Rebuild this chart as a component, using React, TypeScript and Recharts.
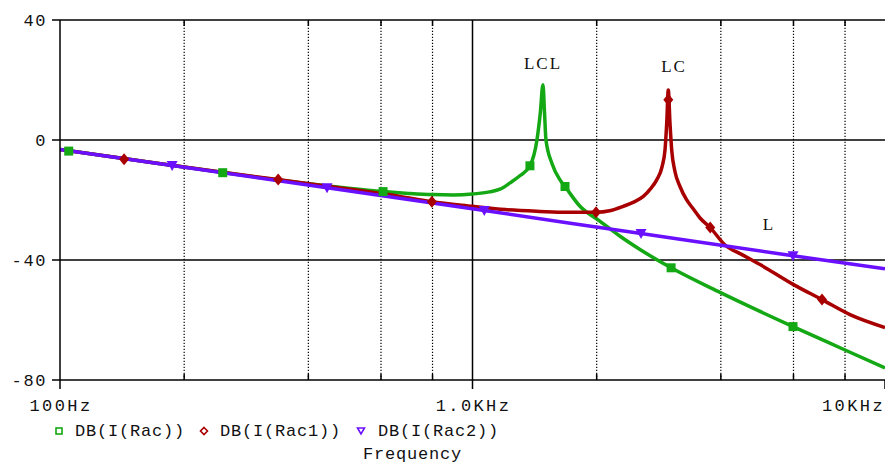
import React from 'react';
import { ComposedChart, Line, Scatter, XAxis, YAxis, ReferenceLine, ReferenceDot } from 'recharts';

const xTicks = [100, 1000, 10000];
const xTickLabels = ['100Hz', '1.0KHz', '10KHz'];
const yTicks = [-80, -40, 0, 40];
const yTickLabels = ['-80', '-40', '0', '40'];
const minorGrid = [200, 400, 600, 800, 2000, 4000, 6000, 8000];
const majorGrid = [1000];
const hGrid = [40, 0, -40];

const seriesNames = ['DB(I(Rac))', 'DB(I(Rac1))', 'DB(I(Rac2))'];
const xAxisTitle = 'Frequency';

// DB(I(Rac)) - LCL
const lclData = [
  { f: 100, db: -3.2 }, { f: 150, db: -6.6 }, { f: 200, db: -9.0 }, { f: 300, db: -12.4 },
  { f: 400, db: -14.6 }, { f: 500, db: -16.1 }, { f: 607, db: -17.2 }, { f: 700, db: -17.8 },
  { f: 800, db: -18.2 }, { f: 900, db: -18.3 }, { f: 1000, db: -18.0 }, { f: 1100, db: -17.3 },
  { f: 1166, db: -16.4 }, { f: 1233, db: -14.3 }, { f: 1300, db: -12.0 }, { f: 1378, db: -8.6 },
  { f: 1433, db: 0 }, { f: 1460, db: 9 }, { f: 1482, db: 18.4 }, { f: 1495, db: 9 },
  { f: 1507, db: 0 }, { f: 1560, db: -8 }, { f: 1630, db: -13.3 }, { f: 1676, db: -15.5 },
  { f: 1822, db: -22.1 }, { f: 2038, db: -27.1 }, { f: 2279, db: -32.1 }, { f: 2547, db: -36.5 },
  { f: 3030, db: -42.6 }, { f: 3981, db: -50.8 }, { f: 5984, db: -62.2 }, { f: 8000, db: -70.0 },
  { f: 10000, db: -76.0 },
];
const lclMarks = [
  { f: 105, db: -3.7 }, { f: 248, db: -10.9 }, { f: 607, db: -17.2 }, { f: 1378, db: -8.6 },
  { f: 1676, db: -15.5 }, { f: 3030, db: -42.6 }, { f: 5984, db: -62.2 },
];

// DB(I(Rac1)) - LC
const lcData = [
  { f: 100, db: -3.2 }, { f: 150, db: -6.6 }, { f: 200, db: -9.0 }, { f: 337, db: -13.2 },
  { f: 500, db: -16.3 }, { f: 667, db: -18.8 }, { f: 797, db: -20.6 }, { f: 1000, db: -22.1 },
  { f: 1200, db: -23.2 }, { f: 1457, db: -23.8 }, { f: 1700, db: -24.1 }, { f: 1993, db: -24.1 },
  { f: 2150, db: -23.6 }, { f: 2321, db: -22.1 }, { f: 2450, db: -20.8 }, { f: 2595, db: -18.8 },
  { f: 2700, db: -16.3 }, { f: 2796, db: -13.3 }, { f: 2880, db: -9 }, { f: 2929, db: -3.3 },
  { f: 2957, db: 5.7 }, { f: 2983, db: 16.7 }, { f: 3011, db: 5.7 }, { f: 3040, db: -3.3 },
  { f: 3096, db: -10.5 }, { f: 3184, db: -15.5 }, { f: 3300, db: -19.8 }, { f: 3430, db: -23.0 },
  { f: 3561, db: -26.0 }, { f: 3770, db: -29.2 }, { f: 4094, db: -35.0 }, { f: 4500, db: -38.2 },
  { f: 4977, db: -41.5 }, { f: 6000, db: -48.2 }, { f: 7035, db: -53.2 }, { f: 8226, db: -58.2 },
  { f: 10000, db: -62.5 },
];
const lcMarks = [
  { f: 143, db: -6.4 }, { f: 338, db: -13.2 }, { f: 797, db: -20.6 }, { f: 1993, db: -24.1 },
  { f: 2983, db: 13.4 }, { f: 3770, db: -29.2 }, { f: 7035, db: -53.2 },
];

// DB(I(Rac2)) - L
const lData = [
  { f: 100, db: -3.2 }, { f: 187, db: -8.5 }, { f: 444, db: -15.9 }, { f: 1068, db: -23.5 },
  { f: 2562, db: -31.2 }, { f: 5984, db: -38.6 }, { f: 10000, db: -42.9 },
];
const lMarks = [
  { f: 187, db: -8.5 }, { f: 444, db: -15.9 }, { f: 1068, db: -23.5 }, { f: 2562, db: -31.2 },
  { f: 5984, db: -38.6 },
];

const annotations = [
  { f: 1482, db: 25.4, text: 'LCL' },
  { f: 3080, db: 24.4, text: 'LC' },
  { f: 5234, db: -28.2, text: 'L' },
];

const GREEN = '#14a814';
const RED = '#a80000';
const PURPLE = '#6a10ff';
const FONT = '"Liberation Mono", "DejaVu Sans Mono", monospace';

const XTick = (props: any) => {
  const { x, payload } = props;
  const i = xTicks.indexOf(payload.value);
  const last = i === xTicks.length - 1;
  return (
    <text x={last ? 885 : x + 1} y={411} textAnchor={last ? 'end' : 'middle'} fontFamily={FONT}
      fontSize={17} letterSpacing={2.4} fill="#111">{xTickLabels[i]}</text>
  );
};

const YTick = (props: any) => {
  const { y, payload } = props;
  const i = yTicks.indexOf(payload.value);
  return (
    <text x={47} y={y + 5.5} textAnchor="end" fontFamily={FONT} fontSize={17} letterSpacing={1.6}
      fill="#111">{yTickLabels[i]}</text>
  );
};

const squareShape = (p: any) => <rect x={p.cx - 4.5} y={p.cy - 4.5} width={9} height={9} fill={GREEN} />;
const diamondShape = (p: any) => (
  <polygon points={`${p.cx},${p.cy - 6} ${p.cx + 5},${p.cy} ${p.cx},${p.cy + 6} ${p.cx - 5},${p.cy}`} fill={RED} />
);
const triShape = (p: any) => (
  <polygon points={`${p.cx - 5.5},${p.cy - 4.5} ${p.cx + 5.5},${p.cy - 4.5} ${p.cx},${p.cy + 5.5}`} fill={PURPLE} />
);

export default function App() {
  return (
    <div style={{ position: 'absolute', left: 0, top: 0, width: 885, height: 463, background: '#fff' }}>
      <ComposedChart width={885} height={463} margin={{ top: 20, right: 0, bottom: 53, left: 0 }}>
        <XAxis dataKey="f" type="number" scale="log" domain={[100, 10000]} ticks={xTicks} interval={0}
          allowDataOverflow tickSize={9} tick={<XTick />} height={30}
          axisLine={{ stroke: '#000', strokeWidth: 1.5 }} tickLine={{ stroke: '#000', strokeWidth: 1.5 }} />
        <YAxis dataKey="db" type="number" domain={[-80, 40]} ticks={yTicks} interval={0} width={60}
          tickSize={8} tick={<YTick />} allowDataOverflow
          axisLine={{ stroke: '#000', strokeWidth: 1.5 }} tickLine={{ stroke: '#000', strokeWidth: 1.5 }} />
        {hGrid.map((v) => (
          <ReferenceLine key={'h' + v} y={v} stroke="#000" strokeWidth={1.5} />
        ))}
        {majorGrid.map((v) => (
          <ReferenceLine key={'v' + v} x={v} stroke="#000" strokeWidth={1.5} />
        ))}
        {minorGrid.map((v) => (
          <ReferenceLine key={'m' + v} x={v} stroke="#000" strokeWidth={1.2} strokeDasharray="1.2 1.8" />
        ))}
        {minorGrid.map((v) => (
          <ReferenceLine key={'tb' + v} segment={[{ x: v, y: -80 }, { x: v, y: -78 }]} stroke="#000" strokeWidth={1.5} />
        ))}
        {minorGrid.map((v) => (
          <ReferenceLine key={'tt' + v} segment={[{ x: v, y: 40 }, { x: v, y: 38 }]} stroke="#000" strokeWidth={1.5} />
        ))}
        <Line data={lclData} dataKey="db" type="monotone" stroke={GREEN} strokeWidth={3.5} dot={false}
          isAnimationActive={false} />
        <Line data={lcData} dataKey="db" type="monotone" stroke={RED} strokeWidth={3.5} dot={false}
          isAnimationActive={false} />
        <Line data={lData} dataKey="db" type="monotone" stroke={PURPLE} strokeWidth={3.5} dot={false}
          isAnimationActive={false} />
        <Scatter data={lclMarks} dataKey="db" shape={squareShape} isAnimationActive={false} />
        <Scatter data={lcMarks} dataKey="db" shape={diamondShape} isAnimationActive={false} />
        <Scatter data={lMarks} dataKey="db" shape={triShape} isAnimationActive={false} />
        {annotations.map((a) => (
          <ReferenceDot key={a.text} x={a.f} y={a.db} r={0}
            shape={(p: any) => (
              <text x={p.cx} y={p.cy} textAnchor="middle" dominantBaseline="central"
                fontFamily='"Liberation Serif", serif' fontSize={17} letterSpacing={2} fill="#111">{a.text}</text>
            )} />
        ))}
      </ComposedChart>
      <svg width={885} height={463} style={{ position: 'absolute', left: 0, top: 0, pointerEvents: 'none' }}>
        <rect x={56} y={428} width={6} height={6} fill="none" stroke={GREEN} strokeWidth={1.6} />
        <text x={75} y={436} fontFamily={FONT} fontSize={17} letterSpacing={0.8} fill="#111">{seriesNames[0]}</text>
        <polygon points="204,427.5 207.5,431 204,434.5 200.5,431" fill="none" stroke={RED} strokeWidth={1.6} />
        <text x={220} y={436} fontFamily={FONT} fontSize={17} letterSpacing={0.8} fill="#111">{seriesNames[1]}</text>
        <polygon points="357.5,428 364.5,428 361,434" fill="none" stroke={PURPLE} strokeWidth={1.6} />
        <text x={378} y={436} fontFamily={FONT} fontSize={17} letterSpacing={0.8} fill="#111">{seriesNames[2]}</text>
        <text x={363} y={459} fontFamily={FONT} fontSize={17} letterSpacing={0.8} fill="#111">{xAxisTitle}</text>
      </svg>
    </div>
  );
}
